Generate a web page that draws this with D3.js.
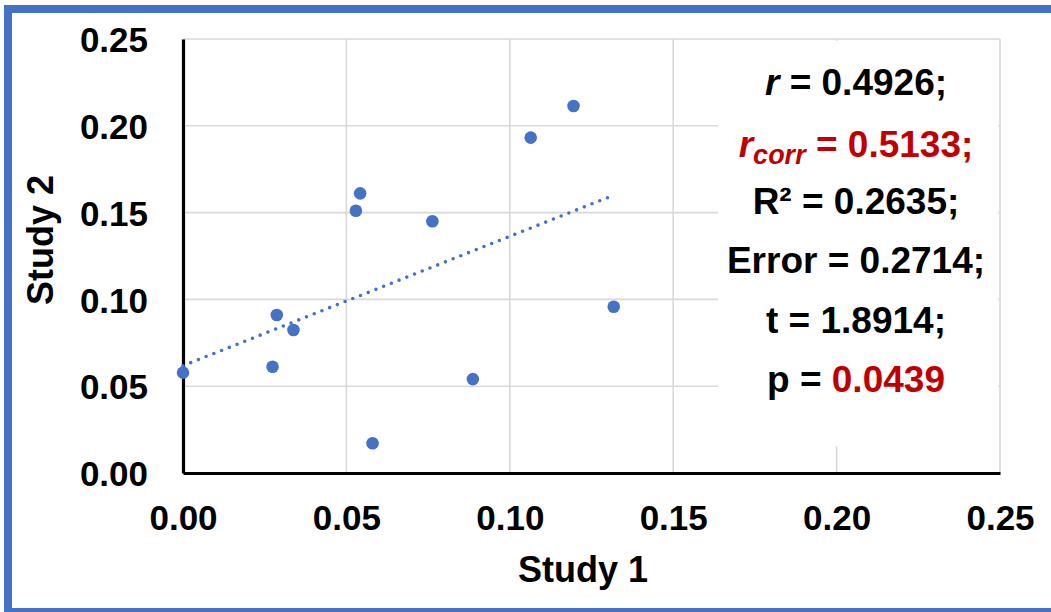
<!DOCTYPE html>
<html>
<head>
<meta charset="utf-8">
<script src="https://cdn.jsdelivr.net/npm/d3@7"></script>
<style>
  html, body { margin: 0; padding: 0; background: #fff; }
  svg { display: block; font-family: "Liberation Sans", Arial, sans-serif; font-weight: bold; }
</style>
</head>
<body>
<svg id="chart" width="1051" height="612"></svg>
<script>
// Paired values of the two studies
const study1 = [0.0000, 0.0274, 0.0287, 0.0338, 0.0529, 0.0542, 0.0580, 0.0763, 0.0887, 0.1064, 0.1195, 0.1318];
const study2 = [0.0578, 0.0612, 0.0910, 0.0824, 0.1511, 0.1611, 0.0171, 0.1450, 0.0541, 0.1932, 0.2114, 0.0958];

// Axis ticks
const xTicks = [0.00, 0.05, 0.10, 0.15, 0.20, 0.25];
const yTicks = [0.00, 0.05, 0.10, 0.15, 0.20, 0.25];

// Reported statistics
const statR = "0.4926";
const statRcorr = "0.5133";
const statR2 = "0.2635";
const statError = "0.2714";
const statT = "1.8914";
const statP = "0.0439";

const svg = d3.select("#chart");
const blue = "#4472c4";
const red = "#c00000";

// Outer frame
svg.append("rect")
  .attr("x", 8).attr("y", 9).attr("width", 1060).attr("height", 603)
  .attr("fill", "#fff").attr("stroke", blue).attr("stroke-width", 8);

const plot = { left: 183, right: 1000, top: 39, bottom: 473 };
const x = d3.scaleLinear().domain([0, 0.25]).range([plot.left, plot.right]);
const y = d3.scaleLinear().domain([0, 0.25]).range([plot.bottom, plot.top]);

// Gridlines
const grid = svg.append("g").attr("stroke", "#d9d9d9").attr("stroke-width", 1.6);
grid.selectAll("line.v").data(xTicks.slice(1)).join("line")
  .attr("x1", d => x(d)).attr("x2", d => x(d))
  .attr("y1", plot.top).attr("y2", plot.bottom);
grid.selectAll("line.h").data(yTicks.slice(1)).join("line")
  .attr("x1", plot.left).attr("x2", plot.right)
  .attr("y1", d => y(d)).attr("y2", d => y(d));

// Statistics panel background
svg.append("rect")
  .attr("x", 718).attr("y", 41).attr("width", 280).attr("height", 405)
  .attr("fill", "#fff");

// Axes
const fmt = d3.format(".2f");
const xAxis = svg.append("g")
  .attr("transform", `translate(0,${plot.bottom})`)
  .call(d3.axisBottom(x).tickValues(xTicks).tickFormat(fmt).tickSize(0).tickPadding(40));
const yAxis = svg.append("g")
  .attr("transform", `translate(${plot.left},0)`)
  .call(d3.axisLeft(y).tickValues(yTicks).tickFormat(fmt).tickSize(0).tickPadding(35));
[xAxis, yAxis].forEach(a => {
  a.select(".domain").attr("stroke", "#000").attr("stroke-width", 3.2);
  a.selectAll("text")
    .attr("fill", "#000")
    .style("font-family", '"Liberation Sans", Arial, sans-serif')
    .style("font-weight", "bold")
    .style("font-size", "35px");
});
xAxis.selectAll("text").attr("dy", null).attr("y", 57 + 0);
yAxis.selectAll("text").attr("dy", "0.36em");

// Axis titles
svg.append("text")
  .attr("x", 583).attr("y", 582)
  .attr("text-anchor", "middle")
  .style("font-size", "36px")
  .text("Study 1");
svg.append("text")
  .attr("transform", "translate(53,240) rotate(-90)")
  .attr("text-anchor", "middle")
  .style("font-size", "36px")
  .text("Study 2");

// Linear trendline (least squares over the data)
const mx = d3.mean(study1), my = d3.mean(study2);
const sxy = d3.sum(study1, (v, i) => (v - mx) * (study2[i] - my));
const sxx = d3.sum(study1, v => (v - mx) * (v - mx));
const slope = sxy / sxx, intercept = my - slope * mx;
const xr = d3.extent(study1);
svg.append("path")
  .datum(xr.map(v => [v, intercept + slope * v]))
  .attr("d", d3.line().x(d => x(d[0])).y(d => y(d[1])))
  .attr("fill", "none")
  .attr("stroke", blue)
  .attr("stroke-width", 3.6)
  .attr("stroke-linecap", "round")
  .attr("stroke-dasharray", "0 8.3");

// Points
svg.append("g").selectAll("circle")
  .data(study1.map((v, i) => [v, study2[i]]))
  .join("circle")
  .attr("cx", d => x(d[0])).attr("cy", d => y(d[1]))
  .attr("r", 6.3)
  .attr("fill", blue);

// Statistics text
const cx = 856, base = 95, step = 59.4;
const stats = svg.append("g").attr("text-anchor", "middle").style("font-size", "37px");

const l1 = stats.append("text").attr("x", cx).attr("y", base);
l1.append("tspan").style("font-style", "italic").text("r");
l1.append("tspan").text(" = " + statR + ";");

const l2 = stats.append("text").attr("x", cx).attr("y", base + step + 3).attr("fill", red);
l2.append("tspan").style("font-style", "italic").text("r");
l2.append("tspan").style("font-style", "italic").style("font-size", "27px").attr("dy", 7).text("corr");
l2.append("tspan").attr("dy", -7).text(" = " + statRcorr + ";");

stats.append("text").attr("x", cx).attr("y", base + 2 * step).text("R² = " + statR2 + ";");
stats.append("text").attr("x", cx).attr("y", base + 3 * step).text("Error = " + statError + ";");
stats.append("text").attr("x", cx).attr("y", base + 4 * step).text("t = " + statT + ";");

const l6 = stats.append("text").attr("x", cx).attr("y", base + 5 * step);
l6.append("tspan").text("p = ");
l6.append("tspan").attr("fill", red).text(statP);
</script>
</body>
</html>
